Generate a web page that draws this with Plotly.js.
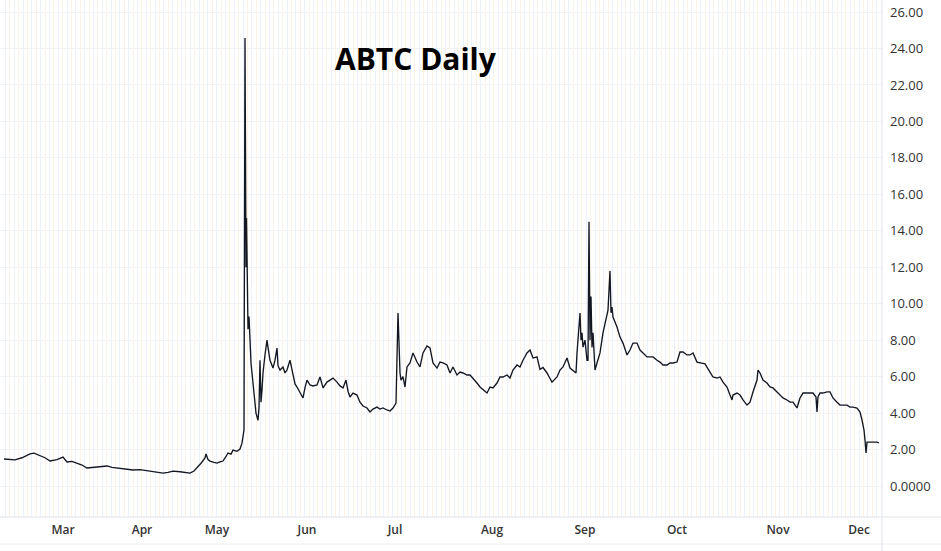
<!DOCTYPE html>
<html>
<head>
<meta charset="utf-8">
<script src="https://cdn.plot.ly/plotly-3.0.1.min.js"></script>
<style>html,body{margin:0;padding:0;background:#fff;}#chart{width:941px;height:551px;}</style>
</head>
<body>
<div id="chart"></div>
<script>
// Bar index (session position on the chart's time axis) and price of ABTC
const barIndex = [4,10,15,22,30,34,40,45,50,57,63,67,72,77,82,87,93,100,107,112,117,125,133,140,146,150,156,163,168,173,180,186,190,194,197,201,205,206,208,210,214,217,220,223,226,228,231,233,237,240,242,243,244,245,246,246.5,247,248,249,250,251,252,254,256,258,259,260,261,262,263,265,267,268,270,273,275,277,278,280,283,285,287,290,293,295,297,300,303,305,307,310,313,317,320,323,327,330,333,337,340,343,346,348,350,353,357,360,363,367,370,373,377,380,383,387,390,393,396,398,399,400,401,403,405,407,410,413,417,420,423,427,430,433,437,440,443,447,450,453,457,460,463,467,470,473,477,480,483,487,490,493,497,500,503,507,510,513,517,520,523,527,530,533,537,540,543,547,550,552,557,560,563,567,570,573,576,577,579,580,581,582,583,585,587,588,589,590,591,592,593,595,597,600,603,607,608,610,611,612,613,617,620,623,627,630,633,637,640,643,647,650,653,657,660,663,667,670,673,677,680,683,687,690,693,697,700,705,710,713,717,720,723,727,730,732,733,737,740,743,747,750,753,757,758,760,763,767,770,773,777,780,783,787,790,793,797,800,803,807,810,813,816,817,818,820,823,827,830,833,837,840,843,847,850,853,857,860,862,864,865,866,867,870,873,877,879];
const price = [1.48,1.45,1.43,1.55,1.76,1.80,1.65,1.55,1.37,1.45,1.59,1.32,1.35,1.26,1.15,0.99,1.02,1.04,1.10,1.02,0.99,0.95,0.88,0.90,0.85,0.82,0.78,0.71,0.75,0.82,0.78,0.76,0.71,0.82,0.99,1.25,1.54,1.76,1.45,1.37,1.30,1.26,1.32,1.37,1.62,1.81,1.75,1.97,1.90,2.03,2.35,2.69,3.07,24.57,12.0,14.7,12.7,8.6,9.3,7.5,6.75,6.2,5.0,4.0,3.6,4.3,6.9,4.6,5.27,6.2,7.2,8.0,7.6,6.9,6.47,6.9,7.57,6.6,6.36,6.53,6.2,6.36,6.9,5.98,5.6,5.43,5.1,4.83,5.4,5.81,5.54,5.49,5.54,5.98,5.38,5.7,5.81,5.92,5.7,5.49,5.38,5.81,5.2,4.88,5.1,4.99,4.6,4.39,4.28,4.06,4.22,4.33,4.22,4.28,4.17,4.11,4.28,4.55,9.49,7.84,6.2,5.81,6.0,5.43,6.53,6.75,7.3,6.8,6.53,7.3,7.68,7.57,6.75,6.47,6.8,6.75,6.64,6.2,6.53,6.09,6.25,6.2,6.09,6.09,5.92,5.65,5.43,5.27,5.1,5.43,5.38,5.65,5.98,5.98,6.09,5.92,6.36,6.64,6.53,6.9,7.3,7.46,7.02,7.08,6.4,6.5,6.2,5.9,5.7,5.98,6.36,6.53,7.02,6.47,6.36,6.2,7.3,9.0,9.49,8.0,8.4,7.62,8.0,6.9,6.9,14.5,8.0,10.4,7.6,8.4,6.36,6.75,7.3,8.4,9.49,9.65,11.8,9.5,9.82,9.27,8.72,8.17,7.84,7.19,7.46,7.84,7.84,7.46,7.3,7.08,7.08,7.08,6.9,6.8,6.64,6.64,6.75,6.75,6.8,7.35,7.35,7.19,7.19,7.3,6.8,6.75,6.7,6.25,5.98,5.92,5.98,5.7,5.43,4.99,4.72,4.99,5.1,4.99,4.72,4.44,4.6,5.16,5.81,6.36,6.2,5.81,5.65,5.43,5.38,5.16,4.99,4.83,4.72,4.6,4.6,4.28,4.83,5.1,5.1,5.1,5.1,4.88,4.06,4.9,5.1,5.1,5.16,5.16,4.83,4.6,4.44,4.44,4.44,4.33,4.33,4.28,4.06,3.62,3.07,2.52,1.81,2.41,2.41,2.41,2.41,2.36];

// Month tick positions on the bar-index axis and their labels
const monthPos = [63,142,217,307,395,492,585,677,778,859];
const monthLabels = ["Mar","Apr","May","Jun","Jul","Aug","Sep","Oct","Nov","Dec"];

// Price axis ticks
const priceTicks = [0,2,4,6,8,10,12,14,16,18,20,22,24,26];
const priceLabels = ["0.0000","2.00","4.00","6.00","8.00","10.00","12.00","14.00","16.00","18.00","20.00","22.00","24.00","26.00"];

const xRange = [0, 882];
const yRange = [-1.70, 26.66];

const traces = [
  {
    type: "scatter", mode: "lines",
    x: barIndex, y: price,
    line: {color: "#131722", width: 1.35},
    hoverinfo: "x+y", showlegend: false
  },
  {
    type: "scatter", mode: "lines",
    x: xRange, y: [null, null],
    xaxis: "x2", yaxis: "y",
    hoverinfo: "skip", showlegend: false
  }
];

const tickFont = {family: "Open Sans, sans-serif", size: 13, color: "#333"};

const layout = {
  width: 941, height: 551,
  margin: {l: 0, r: 59, t: 0, b: 34, pad: 0},
  paper_bgcolor: "#fff", plot_bgcolor: "#fff",
  showlegend: false,
  xaxis: {
    range: xRange, tickmode: "array", tickvals: monthPos, ticktext: monthLabels,
    showgrid: false, zeroline: false, ticks: "",
    ticklabelstandoff: 4,
    tickfont: {family: "Open Sans, sans-serif", size: 12, color: "#333", weight: 600},
    showline: false, fixedrange: true
  },
  xaxis2: {
    overlaying: "x", anchor: "y", range: xRange,
    tickmode: "linear", tick0: 1, dtick: 8.8,
    showgrid: true, gridcolor: "#fdf3e4", gridwidth: 1,
    minor: {tickmode: "linear", tick0: 5.4, dtick: 8.8, showgrid: true, gridcolor: "#edf1fa", gridwidth: 1},
    showticklabels: false, ticks: "", zeroline: false, showline: false
  },
  yaxis: {
    side: "right", range: yRange, tickmode: "array", tickvals: priceTicks, ticktext: priceLabels,
    showgrid: true, gridcolor: "#f0f2f5", gridwidth: 1, zeroline: false, ticks: "",
    ticklabelstandoff: 7, tickfont: tickFont, showline: false, fixedrange: true
  },
  shapes: [
    {type: "line", xref: "paper", yref: "paper", x0: 0, x1: 941/882, y0: 0, y1: 0, line: {color: "#e0e3eb", width: 1}},
    {type: "line", xref: "paper", yref: "paper", x0: 0, x1: 941/882, y0: -27/517, y1: -27/517, line: {color: "#eceef2", width: 1}},
    {type: "line", xref: "paper", yref: "paper", x0: 1, x1: 1, y0: -34/517, y1: 1, line: {color: "#e0e3eb", width: 1}}
  ],
  annotations: [
    {text: "ABTC Daily", xref: "paper", yref: "paper", x: 416/882, y: 1 - 58/517,
     xanchor: "center", yanchor: "middle", showarrow: false,
     font: {family: "Open Sans, sans-serif", size: 30, color: "#000", weight: 700}}
  ]
};

Plotly.newPlot("chart", traces, layout, {displayModeBar: false, staticPlot: true});
</script>
</body>
</html>
